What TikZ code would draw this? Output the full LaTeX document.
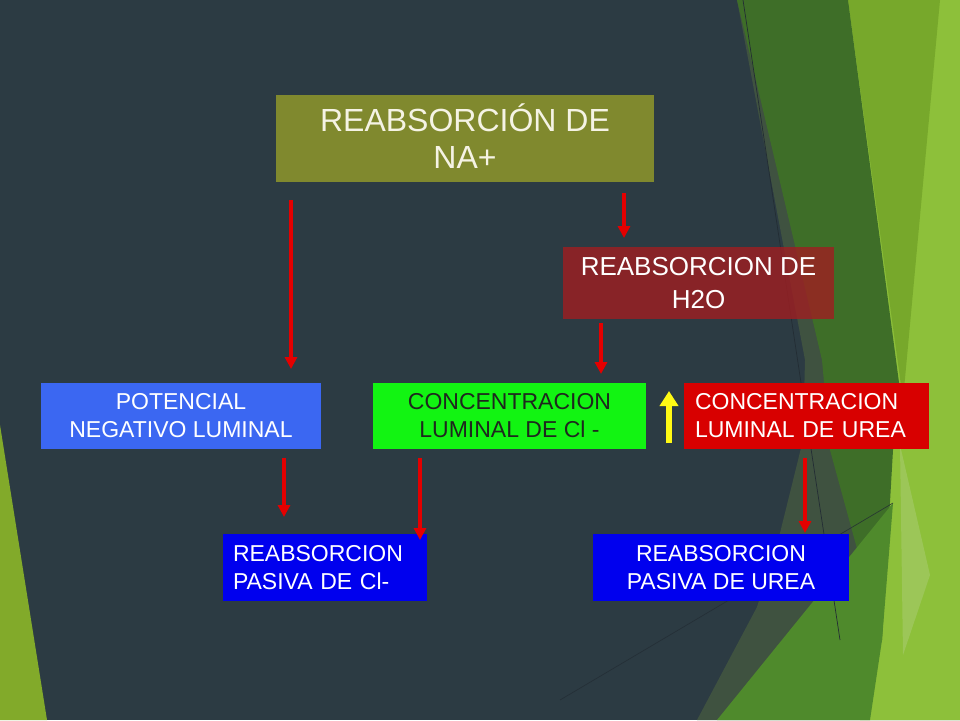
\documentclass[tikz,border=0pt]{standalone}
\usepackage{fontspec}
\setmainfont{Liberation Sans}
\usetikzlibrary{arrows.meta}
\definecolor{slate}{RGB}{44,59,67}
\definecolor{grayov}{RGB}{63,82,64}
\definecolor{dkgreen}{RGB}{62,110,40}
\definecolor{mdgreen}{RGB}{79,138,44}
\definecolor{ltgreen}{RGB}{119,168,43}
\definecolor{brgreen}{RGB}{141,192,58}
\definecolor{pale}{RGB}{163,201,102}
\definecolor{lefttri}{RGB}{130,170,42}
\definecolor{thinline}{RGB}{35,45,52}
\definecolor{olivebox}{RGB}{128,137,46}
\definecolor{h2obox}{RGB}{159,30,33}
\definecolor{potblue}{RGB}{59,103,242}
\definecolor{clgreen}{RGB}{18,244,18}
\definecolor{cltext}{RGB}{30,40,30}
\definecolor{ureared}{RGB}{216,0,0}
\definecolor{pasblue}{RGB}{0,0,238}
\definecolor{arrred}{RGB}{228,0,0}
\definecolor{yel}{RGB}{255,250,20}
\tikzset{
  box/.style={anchor=north west, inner xsep=0pt, inner ysep=0pt, outer sep=0pt, text=white, align=center},
  midfont/.style={font=\fontsize{23}{28}\selectfont},
  redarr/.style={draw=arrred, line width=4pt, -{Triangle[width=12pt,length=12pt]}},
  yelarr/.style={draw=yel, line width=5.5pt, -{Triangle[width=18pt,length=15pt]}}
}
\begin{document}
\begin{tikzpicture}[x=1pt,y=-1pt]
\useasboundingbox (0,0) rectangle (960,720);
% background
\fill[slate] (0,0) rectangle (960,720);
\fill[grayov] (737,0) -- (960,0) -- (960,720) -- (697,720) -- (757,607) -- (780,533) -- (803,440) -- (805,360) -- cycle;
\fill[brgreen] (848,0) -- (960,0) -- (960,720) -- (860,720) -- (882,640) -- cycle;
\fill[ltgreen] (848,0) -- (940,0) -- (903,400) -- cycle;
\fill[dkgreen] (737,0) -- (848,0) -- (900,390) -- (893,450) -- (882,640) -- (830,450) -- (822,360) -- cycle;
\fill[mdgreen] (717,720) -- (893,503) -- (882,640) -- (870,720) -- cycle;
\fill[pale, opacity=0.7] (900,445) -- (930,575) -- (903,655) -- cycle;
\fill[lefttri] (0,425) -- (47,720) -- (0,720) -- cycle;
\draw[thinline, line width=0.7pt] (743,0) -- (840,640);
\draw[thinline, line width=0.7pt, opacity=0.8] (560,700) -- (893,503);
% boxes
\node[box, fill=olivebox, minimum width=378pt, minimum height=87pt, font=\fontsize{32}{37}\selectfont, text={rgb,255:red,245;green,243;blue,228}] (na) at (276,95) {REABSORCI\smash{Ó}N DE\\NA+};
\node[box, fill=h2obox, fill opacity=0.8, text opacity=1, minimum width=271pt, minimum height=72pt, font=\fontsize{26}{33}\selectfont] (h2o) at (563,247) {REABSORCION DE\\H2O};
\node[box, midfont, fill=potblue, minimum width=280pt, minimum height=66pt] (pot) at (41,383) {POTENCIAL\\NEGATIVO LUMINAL};
\node[box, midfont, fill=clgreen, text=cltext, minimum width=273pt, minimum height=66pt] (cl) at (373,383) {CONCENTRACION\\LUMINAL DE Cl -};
\node[box, midfont, fill=ureared, align=left, inner xsep=11pt, text width=223pt, minimum width=245pt, minimum height=66pt] (urea) at (684,383) {CONCENTRACION\\LUMINAL DE UREA};
\node[box, midfont, fill=pasblue, align=left, inner xsep=10pt, text width=184pt, minimum width=204pt, minimum height=67pt] (pcl) at (223,534) {REABSORCION\\PASIVA DE Cl-};
\node[box, midfont, fill=pasblue, minimum width=256pt, minimum height=67pt] (purea) at (593,534) {REABSORCION\\PASIVA DE UREA};
% arrow end points
\coordinate (a1s) at (291,200); \coordinate (a1e) at (291,369);
\coordinate (a2s) at (624,193); \coordinate (a2e) at (624,238);
\coordinate (a3s) at (601,323); \coordinate (a3e) at (601,374);
\coordinate (a4s) at (284,458); \coordinate (a4e) at (284,517);
\coordinate (a5s) at (420,458); \coordinate (a5e) at (420,540);
\coordinate (a6s) at (805,458); \coordinate (a6e) at (805,533);
\coordinate (ys) at (669,443); \coordinate (ye) at (669,391);
\draw[redarr] (a1s) -- (a1e);
\draw[redarr] (a2s) -- (a2e);
\draw[redarr] (a3s) -- (a3e);
\draw[redarr] (a4s) -- (a4e);
\draw[redarr] (a5s) -- (a5e);
\draw[redarr] (a6s) -- (a6e);
\draw[yelarr] (ys) -- (ye);
\end{tikzpicture}
\end{document}
